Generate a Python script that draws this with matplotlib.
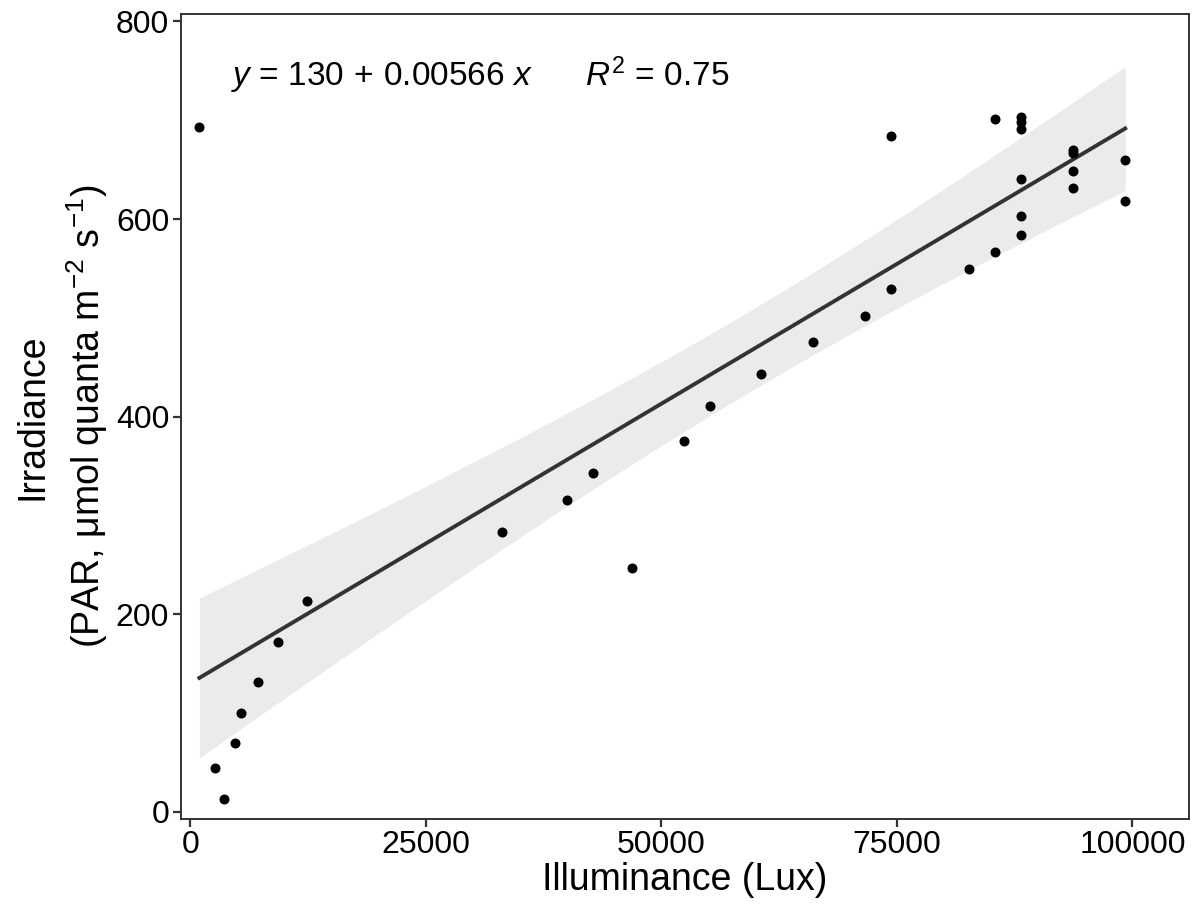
import numpy as np
import matplotlib
matplotlib.use("Agg")
from matplotlib import pyplot as plt

plt.rcParams['font.family'] = ['Liberation Sans', 'DejaVu Sans']
plt.rcParams['mathtext.fontset'] = 'custom'
plt.rcParams['mathtext.rm'] = 'Liberation Sans'
plt.rcParams['mathtext.it'] = 'Liberation Sans:italic'

# illuminance (lux) and PAR readings
lux = [956, 2656, 3612, 4781, 5419, 7225, 9350, 12431,
       33043, 39949, 42711, 46855, 52380, 55142, 60561, 66086,
       71611, 74373, 74373, 82660, 85423, 85423,
       88186, 88186, 88186, 88186, 88186, 88186,
       93711, 93711, 93711, 93711,
       99235, 99235]
par = [693, 44, 13, 69, 100, 131, 172, 213,
       283, 316, 343, 247, 375, 411, 443, 475,
       502, 529, 684, 549, 567, 701,
       703, 698, 691, 641, 603, 584,
       670, 667, 649, 631,
       660, 618]

# regression shown on the chart
eq_intercept = 130
eq_slope = 0.00566
eq_r2 = 0.75

x = np.array(lux, dtype=float)
y = np.array(par, dtype=float)

# 95% confidence band around the fitted line (like geom_smooth(method = "lm"))
n = len(x)
resid = y - (eq_intercept + eq_slope * x)
s = np.sqrt(np.sum(resid ** 2) / (n - 2))
t_crit = 2.037  # t(0.975, df = 32)
xs = np.linspace(x.min(), x.max(), 200)
ys = eq_intercept + eq_slope * xs
se = s * np.sqrt(1 / n + (xs - x.mean()) ** 2 / np.sum((x - x.mean()) ** 2))

fig = plt.figure(figsize=(11.96, 9.07), dpi=100)
ax = fig.add_axes([0.1513, 0.0975, 0.8428, 0.887])

ax.fill_between(xs, ys - t_crit * se, ys + t_crit * se, color='#EBEBEB', lw=0, zorder=1)
ax.plot(xs, ys, color='#333333', lw=2.8, zorder=2)
ax.scatter(x, y, s=52, color='black', zorder=3, linewidths=0)

ax.text(0.05, 0.924,
        '$y$ = %d$\\,+\\,$%.5f $x$      $R^2$ = %.2f' % (eq_intercept, eq_slope, eq_r2),
        transform=ax.transAxes, fontsize=24, va='center', ha='left')

ax.set_xlim(-1000, 106000)
ax.set_ylim(-7.0, 807.5)
ax.set_xticks([0, 25000, 50000, 75000, 100000])
ax.set_yticks([0, 200, 400, 600, 800])

for sp in ax.spines.values():
    sp.set_color('#333333')
    sp.set_linewidth(1.4)
ax.tick_params(axis='both', direction='out', length=5.5, width=1.6, color='#333333',
               labelsize=23, labelcolor='black', pad=3)

ax.set_xlabel('Illuminance (Lux)', fontsize=27, labelpad=1)
ax.set_ylabel('Irradiance\n(PAR, μmol quanta m$^{-2}$ s$^{-1}$)', fontsize=27,
              labelpad=4, linespacing=1.4)

fig.savefig('out.png', dpi=100)
